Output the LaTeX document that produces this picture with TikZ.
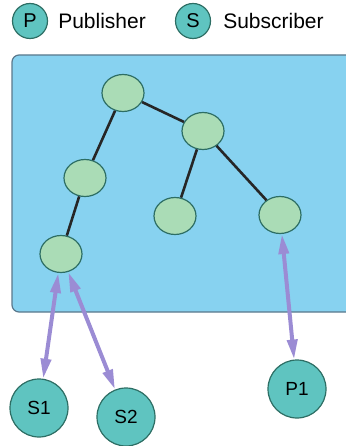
\documentclass[tikz,border=0pt]{standalone}
\usepackage{fontspec}
\setmainfont{Liberation Sans}
\usepackage{xcolor}
\usepackage{tikz}
\usetikzlibrary{arrows.meta, shapes.geometric, positioning}

\definecolor{boxblue}{RGB}{135,210,240}
\definecolor{boxline}{RGB}{90,120,140}
\definecolor{nodegreen}{RGB}{170,220,182}
\definecolor{clientteal}{RGB}{95,196,192}
\definecolor{rimteal}{RGB}{45,110,100}
\definecolor{linkpurple}{RGB}{155,140,212}

\begin{document}
\begin{tikzpicture}[x=1pt, y=-1pt,
    treenode/.style={ellipse, draw=rimteal, line width=1.2pt, fill=nodegreen,
      minimum width=42pt, minimum height=37pt, inner sep=0pt},
    client/.style={circle, draw=rimteal, line width=1.2pt, fill=clientteal,
      minimum size=58pt, inner sep=0pt, font=\fontsize{19}{21}\selectfont},
    legendmark/.style={circle, draw=rimteal, line width=1.2pt, fill=clientteal,
      minimum size=35pt, inner sep=0pt, font=\fontsize{20}{22}\selectfont},
    legendtext/.style={font=\fontsize{21}{24}\selectfont, inner sep=0pt},
    treeedge/.style={line width=2.6pt, black!85},
    link/.style={line width=4pt, linkpurple,
      {Triangle[length=20pt,width=10pt]}-{Triangle[length=20pt,width=10pt]}}]
  \useasboundingbox (0,0) rectangle (345,446);
  % legend
  \node[legendmark] (legP) at (30,21) {P};
  \node[legendtext, right=10pt of legP] (legPtext) {Publisher};
  \node[legendmark] (legS) at (193,21) {S};
  \node[legendtext, right=12pt of legS] (legStext) {Subscriber};
  % broker area (runs off the right edge)
  \fill[boxblue, draw=boxline, line width=1.2pt, rounded corners=7pt]
    (12,55) rectangle (360,312);
  % overlay tree
  \node[treenode] (root)  at (123,93)  {};
  \node[treenode] (right) at (203,131) {};
  \node[treenode] (left)  at (85,178)  {};
  \node[treenode] (mid)   at (175,216) {};
  \node[treenode] (leafP) at (280,215) {};
  \node[treenode] (leafS) at (61,254)  {};
  \draw[treeedge] (root) -- (left);
  \draw[treeedge] (root) -- (right);
  \draw[treeedge] (left) -- (leafS);
  \draw[treeedge] (right) -- (mid);
  \draw[treeedge] (right) -- (leafP);
  % clients
  \node[client] (S1) at (39,408)  {S1};
  \node[client] (S2) at (126,417) {S2};
  \node[client] (P1) at (297,389) {P1};
  \draw[link] (leafS) -- (S1);
  \draw[link] (leafS) -- (S2);
  \draw[link] (leafP) -- (P1);
\end{tikzpicture}
\end{document}
